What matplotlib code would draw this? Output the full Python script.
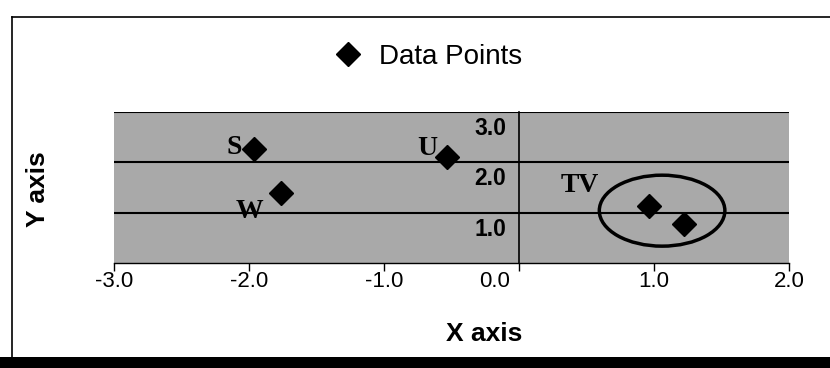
import matplotlib
matplotlib.use('Agg')
import matplotlib.pyplot as plt
from matplotlib.lines import Line2D
from matplotlib.patches import Ellipse, Rectangle
from matplotlib.transforms import ScaledTranslation

# data
point_names = ['S', 'W', 'U', 'T', 'V']
point_x = [-1.96, -1.76, -0.53, 0.96, 1.22]
point_y = [2.26, 1.39, 2.10, 1.13, 0.77]

# text annotations and where they sit (data units)
annot_text = ['S', 'W', 'U', 'TV']
annot_x = [-2.11, -2.0, -0.68, 0.45]
annot_y = [2.30, 1.03, 2.27, 1.54]

# ellipse round the T/V group: centre, width, height
group_center = (1.06, 1.04)
group_size = (0.93, 1.41)

x_ticks = [-3.0, -2.0, -1.0, 0.0, 1.0, 2.0]
y_ticks = [1.0, 2.0, 3.0]

plt.rcParams['font.family'] = ['Liberation Sans', 'DejaVu Sans']

fig = plt.figure(figsize=(8.3, 3.68), dpi=100)
ax = fig.add_axes([0.1373, 0.2853, 0.8133, 0.4103])
ax.set_xlim(-3.0, 2.0)
ax.set_ylim(0.0, 3.0)
ax.set_facecolor('#a9a9a9')

for side in ['top', 'right']:
    ax.spines[side].set_visible(False)
ax.spines['left'].set_position(('data', 0))
ax.spines['left'].set_linewidth(1.2)
ax.spines['bottom'].set_linewidth(1.0)

ax.set_xticks(x_ticks)
ax.set_xticklabels(['%.1f' % v for v in x_ticks], fontsize=16)
ax.tick_params(axis='x', direction='out', length=6, width=1, pad=0)
# the 0.0 label sits left of its tick in the original
for lab in ax.get_xticklabels():
    if lab.get_text() == '0.0':
        lab.set_transform(lab.get_transform() +
                          ScaledTranslation(-0.24, 0, fig.dpi_scale_trans))

ax.set_yticks(y_ticks)
ax.set_yticklabels(['%.1f' % v for v in y_ticks], fontsize=16.5,
                   fontweight='bold')
ax.tick_params(axis='y', length=0, pad=9)
shift = ScaledTranslation(0, -0.14, fig.dpi_scale_trans)
for lab in ax.get_yticklabels():
    lab.set_transform(lab.get_transform() + shift)

ax.grid(axis='y', color='black', linewidth=1.5)
ax.set_axisbelow(True)

ax.plot(point_x, point_y, linestyle='None', marker='D', markersize=12,
        color='black', label='Data Points', zorder=3)

for t, x, y in zip(annot_text, annot_x, annot_y):
    ax.text(x, y, t, family='Liberation Serif', fontweight='bold',
            fontsize=20, ha='center', va='center', zorder=4)

ax.add_patch(Ellipse(group_center, group_size[0], group_size[1],
                     fill=False, edgecolor='black', linewidth=2.5, zorder=4))

fig.text(484 / 830, 1 - 334 / 368, 'X axis', fontsize=19, fontweight='bold',
         ha='center', va='center')
fig.text(38 / 830, 1 - 189 / 368, 'Y axis', fontsize=19, fontweight='bold',
         ha='center', va='center', rotation=90)

fig.legend(loc='center left', bbox_to_anchor=(337 / 830, 1 - 57 / 368),
           frameon=False, fontsize=20, handlelength=0.8, handletextpad=0.7,
           borderpad=0, borderaxespad=0)

# frame of the original figure
fig.add_artist(Line2D([12 / 830, 1.0], [1 - 17 / 368, 1 - 17 / 368],
                      color='black', linewidth=1.2))
fig.add_artist(Line2D([12 / 830, 12 / 830], [1 - 17 / 368, 11 / 368],
                      color='black', linewidth=1.2))
fig.add_artist(Rectangle((0, 0), 1, 11 / 368, transform=fig.transFigure,
                         facecolor='black', edgecolor='none'))

fig.savefig('out.png', dpi=100)
